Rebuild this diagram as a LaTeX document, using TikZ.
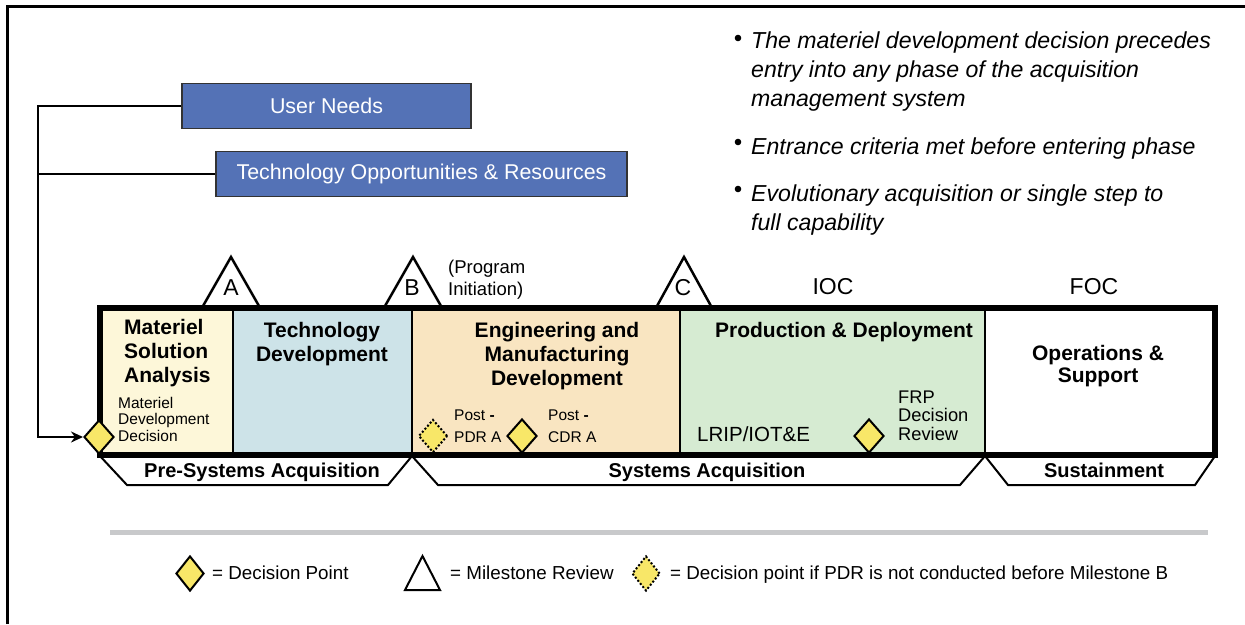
\documentclass[tikz,border=0pt]{standalone}
\usepackage{fontspec}
\setmainfont{Liberation Sans}
\usetikzlibrary{arrows.meta,shapes.geometric}
\definecolor{cMSA}{RGB}{253,247,217}
\definecolor{cTD}{RGB}{205,227,232}
\definecolor{cEMD}{RGB}{249,229,193}
\definecolor{cPD}{RGB}{214,235,210}
\definecolor{cDia}{RGB}{248,231,104}
\definecolor{cBlue}{RGB}{84,114,182}
\definecolor{cRule}{RGB}{200,201,203}
\tikzset{
  bluebox/.style={draw=black!80, line width=1.2, fill=cBlue, text=white, inner sep=0,
    font=\fontsize{21.4}{24}\selectfont},
  conn/.style={line width=2.5, black},
  ptitle/.style={inner sep=0, font=\fontsize{21}{24}\selectfont\bfseries},
  small/.style={inner sep=0, font=\fontsize{15.5}{17}\selectfont},
  mid/.style={inner sep=0, font=\fontsize{18.5}{22}\selectfont},
  big/.style={inner sep=0, font=\fontsize{23}{26}\selectfont},
  blabel/.style={inner sep=0, font=\fontsize{20}{22}\selectfont\bfseries},
  bullettext/.style={inner sep=0, font=\fontsize{23.1}{29}\selectfont\itshape},
  legendtext/.style={inner sep=0, font=\fontsize{18.8}{20}\selectfont},
  frptext/.style={inner sep=0, font=\fontsize{18.3}{19}\selectfont},
  decision/.style={diamond, draw=black, line width=2, fill=cDia, inner sep=0,
    minimum width=30, minimum height=34},
  pdrdecision/.style={diamond, draw=black, line width=2, dotted, fill=cDia, inner sep=0,
    minimum width=29, minimum height=33},
  milestone/.style={draw=black, line width=2.5, fill=white, line join=miter},
  trap/.style={draw=black, line width=2},
  divider/.style={draw=black, line width=1.5}
}
\begin{document}
\begin{tikzpicture}[x=1pt,y=-1pt]
\useasboundingbox (0,0) rectangle (1245,624);
% outer frame
\draw[line width=3] (7,624) -- (7,6) -- (1245,6);

% input boxes
\node[bluebox, minimum width=289, minimum height=45] (UN) at (326.5,106) {User Needs};
\node[bluebox, minimum width=411, minimum height=45] (TO) at (421.5,174) {Technology Opportunities \& Resources};

% phase fills
\fill[cMSA] (100,308) rectangle (233,455);
\fill[cTD] (233,308) rectangle (412,455);
\fill[cEMD] (412,308) rectangle (680,455);
\fill[cPD] (680,308) rectangle (985,455);
\draw[divider] (233,308) -- (233,455);
\draw[divider] (412,308) -- (412,455);
\draw[divider] (680,308) -- (680,455);
\draw[divider] (985,308) -- (985,455);

% milestone triangles
\draw[milestone] (203,306) -- (231,257) -- (259,306);
\draw[milestone] (385,306) -- (413,257) -- (441,306);
\draw[milestone] (657,306) -- (684,257) -- (711,306);
\node[big, anchor=base] (mA) at (231,295) {A};
\node[big, anchor=base] (mB) at (412,295) {B};
\node[big, anchor=base] (mC) at (683,295) {C};
\node[mid, anchor=base west] (pi1) at (448,273) {(Program};
\node[mid, anchor=base west] (pi2) at (448,295) {Initiation)};
\node[big, anchor=base] (ioc) at (833,294) {IOC};
\node[big, anchor=base] (foc) at (1094,294) {FOC};

% phase border
\draw[line width=5.5] (100,308) rectangle (1215,455);

% phase titles
\node[ptitle, anchor=base west] (msa1) at (124,334) {Materiel};
\node[ptitle, anchor=base west] (msa2) at (124,358) {Solution};
\node[ptitle, anchor=base west] (msa3) at (124,382) {Analysis};
\node[small, anchor=base west] (mdd1) at (118,408) {Materiel};
\node[small, anchor=base west] (mdd2) at (118,424.5) {Development};
\node[small, anchor=base west] (mdd3) at (118,441) {Decision};

\node[ptitle, anchor=base] (td1) at (322,337) {Technology};
\node[ptitle, anchor=base] (td2) at (322,361) {Development};

\node[ptitle, anchor=base] (emd1) at (557,337) {Engineering and};
\node[ptitle, anchor=base] (emd2) at (557,361) {Manufacturing};
\node[ptitle, anchor=base] (emd3) at (557,385) {Development};
\node[small, anchor=base west] (pp1) at (454,420) {Post \textbf{-}};
\node[small, anchor=base west] (pp2) at (454,442) {PDR A};
\node[small, anchor=base west] (pc1) at (548,420) {Post \textbf{-}};
\node[small, anchor=base west] (pc2) at (548,442) {CDR A};

\node[ptitle, anchor=base] (pd) at (844,337) {Production \& Deployment};
\node[mid, anchor=base west, font=\fontsize{20.5}{22}\selectfont] (lrip) at (697,441) {LRIP/IOT\&E};
\node[frptext, anchor=base west] (frp1) at (898,403) {FRP};
\node[frptext, anchor=base west] (frp2) at (898,421.5) {Decision};
\node[frptext, anchor=base west] (frp3) at (898,440) {Review};

\node[ptitle, anchor=base] (os1) at (1098,360) {Operations \&};
\node[ptitle, anchor=base] (os2) at (1098,382) {Support};

% decision points
\node[decision] (mdd) at (99,437) {};
\node[pdrdecision] (pdr) at (433,436) {};
\node[decision] (cdr) at (522,436) {};
\node[decision] (frp) at (869,436) {};

% connectors
\coordinate (bend) at (38,0);
\draw[conn, -{Stealth[length=12,width=11]}] (UN.west) -- (UN.west -| bend) |- (mdd.west);
\draw[conn] (TO.west) -- (TO.west -| bend);

% acquisition trapezoids
\draw[trap] (100,456) -- (127,485) -- (388,485) -- (412,456);
\draw[trap] (412,456) -- (438,485) -- (960,485) -- (985,456);
\draw[trap] (985,456) -- (1008,485) -- (1195,485) -- (1215,456);
\node[blabel, anchor=base] (psa) at (262,477) {Pre-Systems Acquisition};
\node[blabel, anchor=base] (sa) at (707,477) {Systems Acquisition};
\node[blabel, anchor=base] (sus) at (1104,477) {Sustainment};

% bullets
\fill (738,38) circle (3.3);
\fill (738,142) circle (3.3);
\fill (738,189) circle (3.3);
\node[bullettext, anchor=base west] (b1) at (751,48) {The materiel development decision precedes};
\node[bullettext, anchor=base west] (b2) at (751,77) {entry into any phase of the acquisition};
\node[bullettext, anchor=base west] (b3) at (751,106) {management system};
\node[bullettext, anchor=base west] (b4) at (751,154) {Entrance criteria met before entering phase};
\node[bullettext, anchor=base west] (b5) at (751,201) {Evolutionary acquisition or single step to};
\node[bullettext, anchor=base west] (b6) at (751,230) {full capability};

% legend
\draw[line width=5, cRule] (110,532) -- (1208,532);
\node[decision, minimum width=28, minimum height=35] (ld1) at (190,573.5) {};
\node[legendtext, anchor=base west] (lt1) at (212,579) {= Decision Point};
\draw[milestone, line width=2] (405,590) -- (422.5,556) -- (440,590) -- cycle;
\node[legendtext, anchor=base west] (lt2) at (450,579) {= Milestone Review};
\node[pdrdecision, minimum width=28, minimum height=35] (ld2) at (646,573.5) {};
\node[legendtext, anchor=base west] (lt3) at (670,579) {= Decision point if PDR is not conducted before Milestone B};
\end{tikzpicture}
\end{document}
